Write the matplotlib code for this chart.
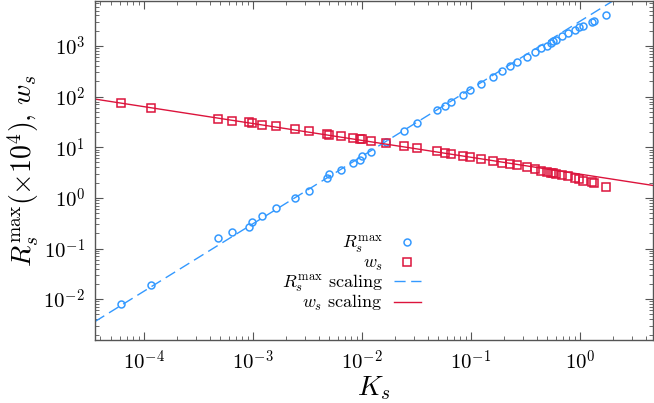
import numpy as np
import matplotlib
matplotlib.use("Agg")
import matplotlib.pyplot as plt
from matplotlib.ticker import LogLocator, NullFormatter, FuncFormatter

plt.rcParams['mathtext.fontset'] = 'cm'
plt.rcParams['font.family'] = ['DejaVu Serif']

# data
K_s = [6.11e-5, 1.17e-4, 4.82e-4, 6.41e-4, 9.19e-4, 9.73e-4, 1.21e-3, 1.62e-3,
       2.41e-3, 3.24e-3, 4.81e-3, 5.01e-3, 6.46e-3, 8.30e-3, 9.64e-3, 1.00e-2,
       1.21e-2, 1.66e-2, 2.43e-2, 3.18e-2, 4.85e-2, 5.74e-2, 6.51e-2, 8.50e-2,
       9.73e-2, 0.123, 0.158, 0.194, 0.228, 0.263, 0.324, 0.386, 0.443, 0.495,
       0.540, 0.560, 0.602, 0.687, 0.779, 0.904, 0.969, 1.054, 1.275, 1.336, 1.72]
R_max = [8.04e-3, 1.94e-2, 0.160, 0.216, 0.271, 0.340, 0.441, 0.626,
         0.99, 1.39, 2.45, 2.91, 3.53, 4.92, 5.51, 6.76,
         8.22, 12.7, 20.8, 29.9, 54.1, 65.8, 80.0, 110,
         136, 177, 243, 319, 397, 476, 617, 751, 893, 1009,
         1146, 1228, 1327, 1577, 1806, 2072, 2322, 2485, 3036, 3177, 4080]
w_s = [75.4, 60.9, 35.9, 33.2, 31.3, 30.4, 28.1, 25.9,
       22.8, 20.8, 18.0, 17.6, 16.6, 15.3, 14.5, 14.3,
       13.3, 12.2, 10.5, 9.73, 8.37, 7.86, 7.41, 6.85,
       6.46, 5.98, 5.38, 4.99, 4.76, 4.39, 4.04, 3.74, 3.37, 3.26,
       3.15, 3.08, 2.98, 2.85, 2.68, 2.52, 2.34, 2.20, 2.07, 1.95, 1.65]

# scaling laws R ~ A K^(4/3), w ~ B K^(-1/3)
A_R, exp_R = 3080.0, 4.0 / 3.0
B_w, exp_w = 2.94, -1.0 / 3.0
x_min, x_max = 3.55e-5, 4.7
y_min, y_max = 1.55e-3, 7.8e3

blue = '#3399ff'
red = '#dc143c'


def pow10(v, pos):
    return r'$10^{%d}$' % int(round(np.log10(v)))


fig = plt.figure(figsize=(6.54, 4.03), dpi=100)
ax = fig.add_axes([0.145, 0.156, 0.854, 0.842])

kk = np.logspace(np.log10(x_min), np.log10(x_max), 200)
ax.plot(K_s, R_max, 'o', mfc='none', mec=blue, mew=1.1, ms=5, ls='none',
        label=r'$R_s^{\max}$')
ax.plot(K_s, w_s, 's', mfc='none', mec=red, mew=1.1, ms=5.5, ls='none',
        label=r'$w_s$')
ax.plot(kk, A_R * kk**exp_R, color=blue, lw=1.0, dashes=(8, 4),
        label=r'$R_s^{\max}$ $\mathrm{scaling}$')
ax.plot(kk, B_w * kk**exp_w, color=red, lw=1.0,
        label=r'$w_s$ $\mathrm{scaling}$')

ax.set_xscale('log')
ax.set_yscale('log')
ax.set_xlim(x_min, x_max)
ax.set_ylim(y_min, y_max)

ax.xaxis.set_major_locator(LogLocator(base=10, numticks=20))
ax.yaxis.set_major_locator(LogLocator(base=10, numticks=20))
ax.xaxis.set_minor_locator(LogLocator(base=10, subs=np.arange(2, 10), numticks=100))
ax.yaxis.set_minor_locator(LogLocator(base=10, subs=np.arange(2, 10), numticks=100))
ax.xaxis.set_major_formatter(FuncFormatter(pow10))
ax.yaxis.set_major_formatter(FuncFormatter(pow10))
ax.xaxis.set_minor_formatter(NullFormatter())
ax.yaxis.set_minor_formatter(NullFormatter())

ax.tick_params(which='both', direction='in', top=True, right=True,
               color='#555555', labelsize=15)
ax.tick_params(which='major', length=6, width=0.8, pad=7)
ax.tick_params(which='minor', length=3, width=0.6)
for sp in ax.spines.values():
    sp.set_color('#555555')
    sp.set_linewidth(1.0)

ax.set_xlabel(r'$K_s$', fontsize=20, labelpad=0)
ax.set_ylabel(r'$R_s^{\max}(\times 10^4),\, w_s$', fontsize=20, labelpad=2)

leg = ax.legend(loc='lower right', bbox_to_anchor=(0.584, 0.08), frameon=False,
                markerfirst=False, fontsize=13, handlelength=1.5,
                labelspacing=-0.05, handletextpad=0.6, borderpad=0,
                borderaxespad=0)

fig.savefig('out.png', dpi=100)
